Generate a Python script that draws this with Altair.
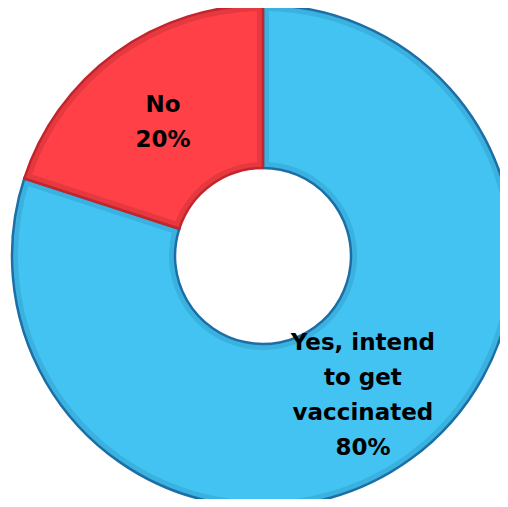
import altair as alt
import pandas as pd

categories = ["Yes, intend to get vaccinated", "No"]
values = [80, 20]
labels = ["Yes, intend\nto get\nvaccinated\n80%", "No\n20%"]
fill_colors = ["#42C3F1", "#FF4047"]
band_colors = ["#3AB1DE", "#E5383F"]
edge_colors = ["#1C6EA6", "#C4242B"]

df = pd.DataFrame({
    "category": categories,
    "value": values,
    "order": list(range(len(categories))),
    "label_yes": [labels[0], ""],
    "label_no": ["", labels[1]],
})

cx, cy = 255, 248
line_h = 35

base = alt.Chart(df).encode(
    theta=alt.Theta("value:Q", stack=True),
    order=alt.Order("order:Q"),
    x=alt.value(cx),
    y=alt.value(cy),
)

outer = base.mark_arc(radius=251, radius2=88, strokeWidth=2.5).encode(
    fill=alt.Color("category:N", scale=alt.Scale(domain=categories, range=band_colors), legend=None),
    stroke=alt.Stroke("category:N", scale=alt.Scale(domain=categories, range=edge_colors), legend=None),
)

inner = base.mark_arc(radius=245, radius2=94, padAngle=0.046, strokeWidth=0).encode(
    fill=alt.Color("category:N", scale=alt.Scale(domain=categories, range=fill_colors), legend=None),
)

text_style = dict(
    radius=170,
    font="DejaVu Sans",
    fontWeight="bold",
    fontSize=23,
    lineHeight=line_h,
    lineBreak="\n",
    color="black",
    align="center",
    baseline="middle",
)

text_yes = base.mark_text(dy=-1.5 * line_h + 2, **text_style).encode(text="label_yes:N")
text_no = base.mark_text(dy=-0.5 * line_h + 4, **text_style).encode(text="label_no:N")

chart = alt.layer(outer, inner, text_yes, text_no).resolve_scale(fill="independent").properties(
    width=492,
    height=491,
    padding=0,
    autosize=alt.AutoSizeParams(type="none"),
).configure_view(stroke=None)

chart.save("out.html", embed_options={"renderer": "svg", "actions": False})
